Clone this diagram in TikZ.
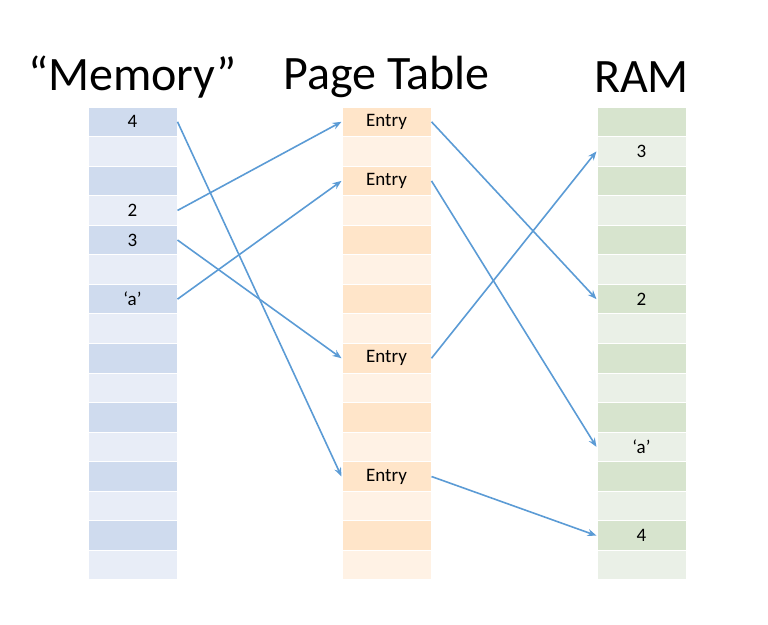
\documentclass[tikz,border=0pt]{standalone}
\usepackage{fontspec}
\setmainfont{Carlito}
\usetikzlibrary{arrows.meta}
\definecolor{memdark}{HTML}{CFDBEE}
\definecolor{memlight}{HTML}{E8EDF7}
\definecolor{ptdark}{HTML}{FFE5C9}
\definecolor{ptlight}{HTML}{FFF2E5}
\definecolor{ramdark}{HTML}{D7E4CE}
\definecolor{ramlight}{HTML}{EAF0E7}
\definecolor{arrowblue}{HTML}{5B9BD5}
\tikzset{
  cell/.style={draw=white, line width=1pt, minimum width=89pt, minimum height=29.56pt,
    inner sep=0pt},
  celltext/.style={font=\fontsize{19}{21}\selectfont},
  title/.style={font=\fontsize{48}{54}\selectfont},
  link/.style={draw=arrowblue, line width=1.6pt, -{Stealth[length=9pt,width=7pt]}}
}
\begin{document}
\begin{tikzpicture}[x=1pt, y=-1pt]
    \useasboundingbox (0,0) rectangle (768,624);

    % Column titles
    \node[title] (memtitle) at (132.5,77) {“Memory”};
    \node[title] (pttitle) at (386.5,77) {Page Table};
    \node[title] (ramtitle) at (641.5,77) {RAM};

    % Cells: 16 rows per column, darker on even rows
    \foreach \i in {0,...,15} {
        \pgfmathsetmacro{\yy}{107+(\i+0.5)*29.56}
        \pgfmathtruncatemacro{\odd}{mod(\i,2)}
        \ifnum\odd=0
            \node[cell, fill=memdark] (mem\i) at (132.5,\yy) {};
            \node[cell, fill=ptdark] (pt\i) at (386.5,\yy) {};
            \node[cell, fill=ramdark] (ram\i) at (641.5,\yy) {};
        \else
            \node[cell, fill=memlight] (mem\i) at (132.5,\yy) {};
            \node[cell, fill=ptlight] (pt\i) at (386.5,\yy) {};
            \node[cell, fill=ramlight] (ram\i) at (641.5,\yy) {};
        \fi
    }

    % Cell contents
    \node[celltext] at (mem0) {4};
    \node[celltext] at (mem3) {2};
    \node[celltext] at (mem4) {3};
    \node[celltext] at (mem6) {‘a’};
    \foreach \i in {0,2,8,12}
        \node[celltext] at (pt\i) {Entry};
    \node[celltext] at (ram1) {3};
    \node[celltext] at (ram6) {2};
    \node[celltext] at (ram11) {‘a’};
    \node[celltext] at (ram14) {4};

    % Memory -> Page Table
    \draw[link] (mem3.east) -- (pt0.west);
    \draw[link] (mem6.east) -- (pt2.west);
    \draw[link] (mem4.east) -- (pt8.west);
    \draw[link] (mem0.east) -- (pt12.west);

    % Page Table -> RAM
    \draw[link] (pt0.east) -- (ram6.west);
    \draw[link] (pt2.east) -- (ram11.west);
    \draw[link] (pt8.east) -- (ram1.west);
    \draw[link] (pt12.east) -- (ram14.west);
\end{tikzpicture}
\end{document}
